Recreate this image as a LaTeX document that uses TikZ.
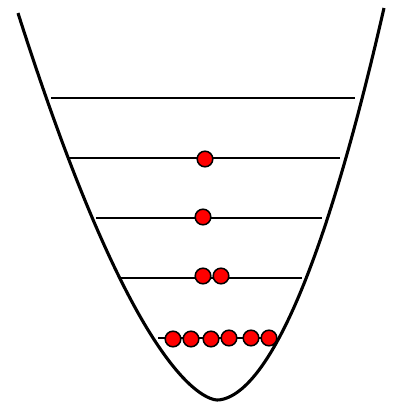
\documentclass[tikz,border=0pt]{standalone}
\begin{document}
\begin{tikzpicture}[x=0.025cm,y=-0.025cm,
  ball/.style={circle,draw=black,fill=red,line width=1.1pt,inner sep=0pt,minimum size=0.39cm}]
\useasboundingbox (0,0) rectangle (397,403);
% well
\draw[line width=2.2pt,line join=round] plot[smooth,domain=199:0.01,samples=60] ({217-\x},{400-pow(\x/4.95,1.613)})
  -- plot[smooth,domain=0.01:167,samples=60] ({217+\x},{400-pow(\x/6.76,1.862)});
% levels
\draw[line width=1.3pt] (51,98) -- (355,98);
\draw[line width=1.3pt] (68,158) -- (340,158);
\draw[line width=1.3pt] (96,218) -- (322,218);
\draw[line width=1.3pt] (121,278) -- (302,278);
\draw[line width=1.3pt] (158,338) -- (275,338);
% particles
\node[ball] (a1) at (205,159) {};
\node[ball] (b1) at (203,217) {};
\node[ball] (c1) at (203,276) {};
\node[ball] (c2) at (221,276) {};
\node[ball] (d1) at (173,339) {};
\node[ball] (d2) at (191,339) {};
\node[ball] (d3) at (211,339) {};
\node[ball] (d4) at (229,338) {};
\node[ball] (d5) at (251,338) {};
\node[ball] (d6) at (269,338) {};
\end{tikzpicture}
\end{document}
